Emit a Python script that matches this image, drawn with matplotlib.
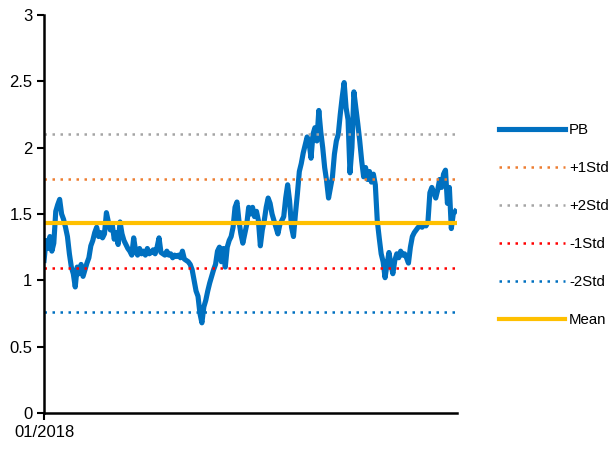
import numpy as np
import matplotlib.pyplot as plt

plt.rcParams['font.family'] = ['Liberation Sans', 'DejaVu Sans']

# PB values (roughly every 2 px of the plot)
pb = [1.15, 1.30, 1.24, 1.33, 1.22, 1.28, 1.52, 1.57, 1.61, 1.50,
      1.46, 1.40, 1.33, 1.20, 1.10, 1.05, 0.95, 1.10, 1.05, 1.12,
      1.03, 1.08, 1.13, 1.17, 1.26, 1.30, 1.36, 1.40, 1.33, 1.36,
      1.32, 1.35, 1.51, 1.44, 1.38, 1.42, 1.31, 1.36, 1.27, 1.44,
      1.35, 1.30, 1.27, 1.24, 1.22, 1.19, 1.32, 1.22, 1.19, 1.24,
      1.20, 1.22, 1.19, 1.24, 1.20, 1.21, 1.23, 1.20, 1.25, 1.32,
      1.21, 1.20, 1.19, 1.22, 1.19, 1.20, 1.17, 1.19, 1.18, 1.19,
      1.17, 1.22, 1.16, 1.15, 1.14, 1.12, 1.08, 1.00, 0.92, 0.88,
      0.75, 0.68, 0.80, 0.85, 0.92, 0.98, 1.03, 1.08, 1.12, 1.22,
      1.25, 1.14, 1.24, 1.10, 1.25, 1.30, 1.33, 1.40, 1.55, 1.59,
      1.45, 1.35, 1.28, 1.35, 1.42, 1.55, 1.50, 1.55, 1.48, 1.52,
      1.45, 1.26, 1.38, 1.45, 1.55, 1.62, 1.58, 1.50, 1.45, 1.40,
      1.35, 1.42, 1.45, 1.48, 1.62, 1.72, 1.60, 1.40, 1.33, 1.50,
      1.65, 1.82, 1.88, 1.96, 2.02, 2.08, 2.04, 1.92, 2.10, 2.15,
      2.05, 2.28, 2.12, 2.00, 1.85, 1.75, 1.62, 1.70, 1.78, 1.95,
      2.05, 2.10, 2.25, 2.38, 2.49, 2.30, 2.21, 1.81, 2.00, 2.42,
      2.30, 2.18, 2.05, 1.90, 1.78, 1.85, 1.76, 1.82, 1.74, 1.80,
      1.72, 1.45, 1.32, 1.20, 1.14, 1.02, 1.12, 1.21, 1.12, 1.05,
      1.15, 1.20, 1.17, 1.22, 1.19, 1.20, 1.17, 1.13, 1.25, 1.33,
      1.36, 1.38, 1.40, 1.41, 1.40, 1.42, 1.41, 1.44, 1.66, 1.70,
      1.66, 1.62, 1.68, 1.76, 1.70, 1.80, 1.83, 1.58, 1.70, 1.39,
      1.50, 1.52]

mean = 1.43
std = 0.335
bands = ['+1Std', '+2Std', '-1Std', '-2Std']
band_k = [1, 2, -1, -2]
band_colors = ['#ED7D31', '#A5A5A5', '#FF0000', '#0070C0']

x = np.arange(len(pb))

fig = plt.figure(figsize=(6.12, 4.5), dpi=100)
ax = fig.add_axes([0.072, 0.082, 0.675, 0.885])

ax.plot(x, pb, color='#0070C0', lw=3.7, label='PB', solid_joinstyle='round')
for name, k, c in zip(bands, band_k, band_colors):
    ax.plot([x[0], x[-1]], [mean + k * std] * 2, color=c, ls=(0, (1, 2.2)), lw=1.8, label=name)
ax.plot([x[0], x[-1]], [mean] * 2, color='#FFC000', lw=3, label='Mean')

ax.set_ylim(0, 3)
ax.set_xlim(x[0], x[-1] + 1)
ax.set_yticks([0, 0.5, 1, 1.5, 2, 2.5, 3])
ax.set_yticklabels(['0', '0.5', '1', '1.5', '2', '2.5', '3'])
ax.set_xticks([0])
ax.set_xticklabels(['01/2018'])
ax.tick_params(labelsize=12, length=5, width=1.5, color='black')
for s in ['top', 'right']:
    ax.spines[s].set_visible(False)
for s in ['left', 'bottom']:
    ax.spines[s].set_linewidth(1.8)

fig.legend(loc='center left', bbox_to_anchor=(0.805, 0.5), frameon=False,
           fontsize=10.8, handlelength=4.4, labelspacing=1.6, handletextpad=0.3,
           borderaxespad=0)

fig.savefig('out.png', dpi=100)
